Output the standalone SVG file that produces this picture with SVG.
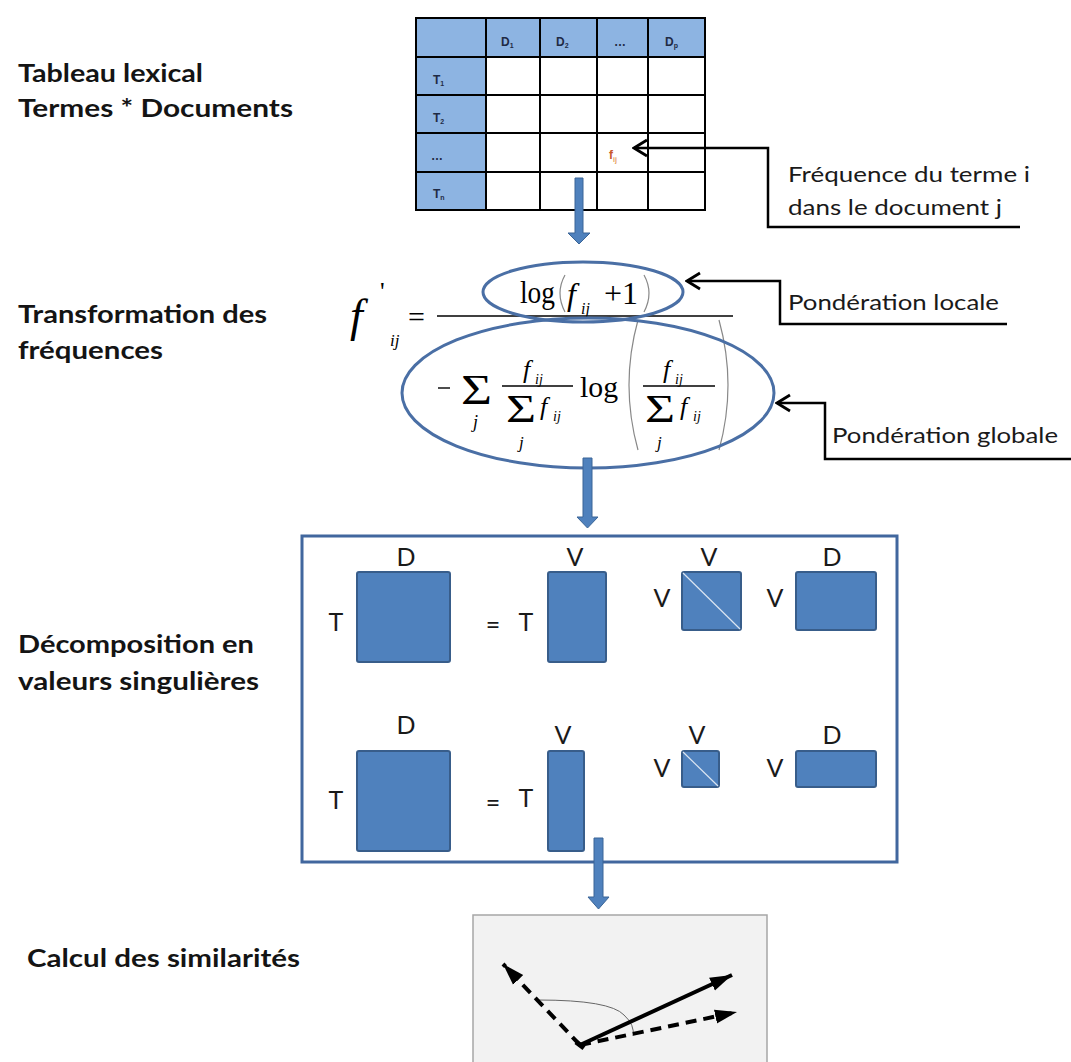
<svg xmlns="http://www.w3.org/2000/svg" width="1071" height="1062" viewBox="0 0 1071 1062">
<style>
.lbl{font-family:Lato,"Liberation Sans",sans-serif;font-weight:bold;font-size:25px;fill:#141414}
.cal{font-family:Lato,"Liberation Sans",sans-serif;font-size:22px;fill:#1a1a1a}
.mat{font-family:Lato,"Liberation Sans",sans-serif;font-size:25px;fill:#1a1a1a;text-anchor:middle}
.tb{font-family:"Liberation Sans",Arial,sans-serif;font-weight:bold;font-size:12px;fill:#1f2a44}
.sub{font-size:7px}
.m{font-family:"Liberation Serif","Times New Roman",serif;fill:#000}
.mi{font-family:"Liberation Serif","Times New Roman",serif;font-style:italic;fill:#000}
.blk{fill:#4F81BD;stroke:#385D8A;stroke-width:2}
.dg{stroke:#DCE6F2;stroke-width:1.2}
.grid{stroke:#000;stroke-width:2;fill:none}
.call{stroke:#000;stroke-width:2.5;fill:none;marker-end:url(#open)}
.barrow{fill:#4F81BD;stroke:#3A6597;stroke-width:1}
.par{stroke:#888;stroke-width:1.2;fill:none}
.ell{fill:none;stroke:#4A6FA5;stroke-width:3}
.vec{stroke:#000;stroke-width:4;fill:none;marker-end:url(#solid)}
</style>
<defs>
<marker id="open" viewBox="-16 -10 18 20" refX="0" refY="0" markerWidth="18" markerHeight="20" markerUnits="userSpaceOnUse" orient="auto">
<path d="M-13,-8 L0,0 L-13,8" fill="none" stroke="#000" stroke-width="2.8"/>
</marker>
<marker id="solid" viewBox="-22 -10 24 20" refX="0" refY="0" markerWidth="24" markerHeight="20" markerUnits="userSpaceOnUse" orient="auto">
<path d="M-22,-7 L0,0 L-22,7 Z" fill="#000"/>
</marker>
</defs>
<rect width="1071" height="1062" fill="#fff"/>

<g id="labels">
<text class="lbl" x="18" y="82" textLength="185" lengthAdjust="spacingAndGlyphs">Tableau lexical</text>
<text class="lbl" x="18" y="117" textLength="275" lengthAdjust="spacingAndGlyphs">Termes * Documents</text>
<text class="lbl" x="18" y="323" textLength="249" lengthAdjust="spacingAndGlyphs">Transformation des</text>
<text class="lbl" x="18" y="359" textLength="145" lengthAdjust="spacingAndGlyphs">fréquences</text>
<text class="lbl" x="18" y="653" textLength="236" lengthAdjust="spacingAndGlyphs">Décomposition en</text>
<text class="lbl" x="18" y="690" textLength="241" lengthAdjust="spacingAndGlyphs">valeurs singulières</text>
<text class="lbl" x="27" y="967" textLength="273" lengthAdjust="spacingAndGlyphs">Calcul des similarités</text>
</g>

<g id="table">
<rect x="416" y="18" width="289" height="39" fill="#8DB4E2"/>
<rect x="416" y="18" width="70" height="192" fill="#8DB4E2"/>
<rect x="416" y="18" width="289" height="192" class="grid"/>
<path class="grid" d="M486,18V210M540,18V210M597,18V210M648,18V210M416,57H705M416,95H705M416,133H705M416,172H705"/>
<text class="tb" x="501" y="46">D<tspan class="sub" dy="2">1</tspan></text>
<text class="tb" x="556" y="46">D<tspan class="sub" dy="2">2</tspan></text>
<text class="tb" x="614" y="46">…</text>
<text class="tb" x="665" y="46">D<tspan class="sub" dy="2">p</tspan></text>
<text class="tb" x="433" y="84">T<tspan class="sub" dy="2">1</tspan></text>
<text class="tb" x="433" y="122">T<tspan class="sub" dy="2">2</tspan></text>
<text class="tb" x="431" y="160">…</text>
<text class="tb" x="433" y="198">T<tspan class="sub" dy="2">n</tspan></text>
<text x="609" y="159" font-family="Liberation Sans,Arial,sans-serif" font-weight="bold" font-size="12" fill="#C8582A">f<tspan font-size="7" fill="#E5A05A" dy="3">ij</tspan></text>
</g>

<g id="formula">
<text class="mi" x="350" y="331" font-size="46">f</text>
<text class="m" x="380" y="300" font-size="26">'</text>
<text class="mi" x="390" y="346" font-size="17">ij</text>
<text class="m" x="408" y="327" font-size="30">=</text>
<line x1="437" y1="316" x2="733" y2="316" stroke="#000" stroke-width="1.5"/>
<text class="m" x="520" y="303" font-size="31" textLength="35" lengthAdjust="spacingAndGlyphs">log</text>
<path class="par" d="M565,275 Q555,293 565,312"/>
<text class="mi" x="567" y="305" font-size="32">f</text>
<text class="mi" x="581" y="314" font-size="16">ij</text>
<text class="m" x="604" y="304" font-size="31" textLength="34" lengthAdjust="spacingAndGlyphs">+1</text>
<path class="par" d="M644,275 Q654,293 644,312"/>

<line x1="438" y1="388" x2="450" y2="388" stroke="#000" stroke-width="1.4"/>
<text class="m" x="461" y="404" font-size="42" textLength="31" lengthAdjust="spacingAndGlyphs">Σ</text>
<text class="mi" x="473" y="428" font-size="18">j</text>
<text class="mi" x="523" y="378" font-size="26">f</text>
<text class="mi" x="535" y="384" font-size="14">ij</text>
<line x1="502" y1="386" x2="573" y2="386" stroke="#000" stroke-width="1.3"/>
<text class="m" x="506" y="422" font-size="40" textLength="30" lengthAdjust="spacingAndGlyphs">Σ</text>
<text class="mi" x="519" y="448" font-size="17">j</text>
<text class="mi" x="540" y="415" font-size="26">f</text>
<text class="mi" x="553" y="421" font-size="14">ij</text>
<text class="m" x="580" y="397" font-size="30" textLength="38" lengthAdjust="spacingAndGlyphs">log</text>
<path class="par" d="M638,320 Q620,385 638,450"/>
<text class="mi" x="663" y="378" font-size="26">f</text>
<text class="mi" x="675" y="384" font-size="14">ij</text>
<line x1="643" y1="386" x2="715" y2="386" stroke="#000" stroke-width="1.3"/>
<text class="m" x="645" y="422" font-size="40" textLength="30" lengthAdjust="spacingAndGlyphs">Σ</text>
<text class="mi" x="657" y="448" font-size="17">j</text>
<text class="mi" x="680" y="415" font-size="26">f</text>
<text class="mi" x="693" y="421" font-size="14">ij</text>
<path class="par" d="M719,320 Q737,385 719,450"/>
</g>

<g id="ellipses">
<ellipse id="local" class="ell" cx="583" cy="292" rx="100" ry="30"/>
<ellipse id="global" class="ell" cx="588" cy="393" rx="186" ry="75"/>
</g>

<g id="annotations">
<text class="cal" x="788" y="182" textLength="242" lengthAdjust="spacingAndGlyphs">Fréquence du terme i</text>
<text class="cal" x="788" y="215" textLength="214" lengthAdjust="spacingAndGlyphs">dans le document j</text>
<text class="cal" x="788" y="310" textLength="211" lengthAdjust="spacingAndGlyphs">Pondération locale</text>
<text class="cal" x="832" y="443" textLength="226" lengthAdjust="spacingAndGlyphs">Pondération globale</text>
</g>

<g id="svd">
<rect x="302" y="536" width="595" height="326" fill="none" stroke="#41679E" stroke-width="3"/>
<text class="mat" x="406" y="566">D</text>
<rect class="blk" x="357" y="572" width="93" height="90" rx="2"/>
<text class="mat" x="336" y="631">T</text>
<text class="mat" x="493" y="634">=</text>
<text class="mat" x="526" y="631">T</text>
<rect class="blk" x="548" y="572" width="58" height="90" rx="2"/>
<text class="mat" x="575" y="566">V</text>
<text class="mat" x="662" y="607">V</text>
<rect class="blk" x="682" y="572" width="59" height="58" rx="2"/>
<line class="dg" x1="683" y1="573" x2="740" y2="629"/>
<text class="mat" x="709" y="566">V</text>
<text class="mat" x="775" y="607">V</text>
<rect class="blk" x="796" y="572" width="80" height="58" rx="2"/>
<text class="mat" x="832" y="566">D</text>

<text class="mat" x="406" y="734">D</text>
<rect class="blk" x="357" y="751" width="93" height="100" rx="2"/>
<text class="mat" x="336" y="809">T</text>
<text class="mat" x="493" y="812">=</text>
<text class="mat" x="526" y="807">T</text>
<rect class="blk" x="548" y="751" width="36" height="100" rx="2"/>
<text class="mat" x="563" y="744">V</text>
<text class="mat" x="662" y="777">V</text>
<rect class="blk" x="682" y="751" width="37" height="36" rx="2"/>
<line class="dg" x1="683" y1="752" x2="718" y2="786"/>
<text class="mat" x="697" y="744">V</text>
<text class="mat" x="775" y="777">V</text>
<rect class="blk" x="796" y="751" width="80" height="36" rx="2"/>
<text class="mat" x="832" y="744">D</text>
</g>

<g id="similarity">
<rect x="473" y="915" width="294" height="160" fill="#F2F2F2" stroke="#A6A6A6" stroke-width="1.5"/>
<path d="M538,1000 Q610,1000 624,1015 Q635,1025 633,1036" fill="none" stroke="#666" stroke-width="1"/>
<path class="vec" d="M580,1045 L503,964" stroke-dasharray="11,7"/>
<path class="vec" d="M580,1045 L737,1012" stroke-dasharray="11,7"/>
<path class="vec" d="M580,1045 L732,975" stroke-width="4.5"/>
<path d="M576,1042 L584,1048" stroke="#000" stroke-width="5"/>
</g>

<g id="connectors">
<path class="call" d="M1020,227 H768 V148 H634"/>
<path class="call" d="M1007,324 H780 V281 H687"/>
<path class="call" d="M1071,459 H825 V403 H777"/>
<polygon class="barrow" points="575,178 583,178 583,233 590,233 579,244 568,233 575,233"/>
<polygon class="barrow" points="583,458 592,458 592,517 598,517 587.5,528 577,517 583,517"/>
<polygon class="barrow" points="594,838 603,838 603,897 609,897 598.5,909 588,897 594,897"/>
</g>
</svg>
